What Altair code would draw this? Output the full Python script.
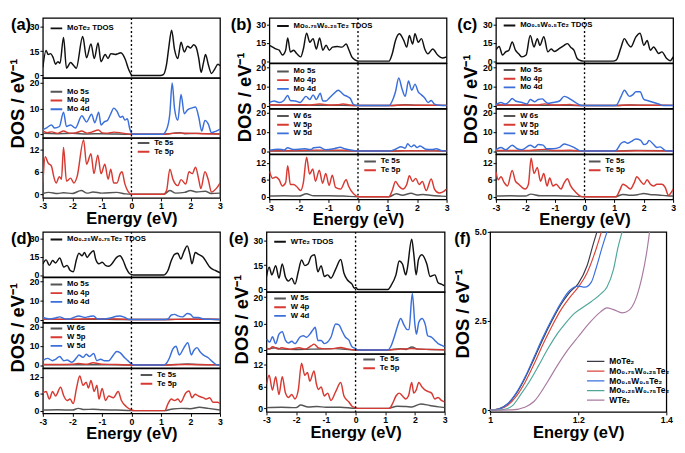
import altair as alt
import pandas as pd

FONT = "Liberation Sans"

BLACK = "#111111"
GRAY = "#555555"
RED = "#d63a32"
BLUE = "#3b6fda"

XTICKS = [-3, -2, -1, 0, 1, 2, 3]
TDOS_DOM, TDOS_TICKS = [-1.5, 35.5], [0, 15, 30]
PD_DOM, PD_TICKS = [-1.5, 22], [0, 10, 20]
TE_DOM, TE_TICKS = [-1, 15], [0, 6, 12]

# ---------------- panel (a) MoTe2 ----------------
A_TDOS = [(-3.0, 5), (-2.89, 15.5), (-2.82, 13), (-2.74, 13.5), (-2.65, 11), (-2.57, 7), (-2.49, 8.5), (-2.42, 7.5), (-2.3, 23.5), (-2.2, 4.5), (-2.06, 8), (-1.95, 6), (-1.87, 4.5), (-1.65, 24), (-1.52, 11), (-1.37, 19.5), (-1.26, 10.5), (-1.13, 20), (-1.03, 8.5), (-0.89, 13), (-0.79, 10.5), (-0.7, 13.5), (-0.55, 13), (-0.45, 13.5), (-0.36, 14), (-0.21, 10), (-0.1, 4), (-0.02, 1), (0.03, 0), (0.98, 0), (1.08, 0.5), (1.19, 7), (1.27, 18), (1.36, 28), (1.46, 16), (1.57, 10.5), (1.68, 20.5), (1.79, 14.5), (1.9, 18), (2.0, 17), (2.11, 19), (2.19, 17.5), (2.28, 10.5), (2.36, 2), (2.44, 8), (2.51, 13), (2.6, 7), (2.71, 1.3), (2.82, 4), (2.93, 7), (3.0, 6)]
A_MO5S = [(-3.0, 0.3), (-2.5, 0.2), (-2.0, 0.3), (-1.5, 0.1), (-1.0, 0.2), (0.0, 0), (1.1, 0), (1.4, 0.3), (1.65, 0.6), (1.8, 0.2), (2.2, 0.3), (3.0, 0.1)]
A_MO4P = [(-3.0, 1.2), (-2.85, 0.6), (-2.7, 0.9), (-2.5, 0.3), (-2.3, 1.2), (-2.1, 0.4), (-1.9, 0.5), (-1.68, 1.2), (-1.5, 0.4), (-1.35, 0.8), (-1.12, 1.6), (-0.98, 0.5), (-0.8, 0.4), (-0.6, 0.8), (-0.4, 0.6), (-0.2, 0.2), (0.0, 0), (1.1, 0), (1.35, 0.3), (1.65, 0.4), (2.0, 0.3), (2.4, 0.2), (3.0, 0.1)]
A_MO4D = [(-3.0, 1.8), (-2.87, 2.5), (-2.71, 3.6), (-2.6, 2.4), (-2.44, 3), (-2.3, 8.6), (-2.2, 3), (-2.06, 3.6), (-1.9, 2.4), (-1.68, 7.2), (-1.52, 4.8), (-1.35, 7.8), (-1.24, 4.5), (-1.11, 8.6), (-1.03, 3.6), (-0.92, 4.8), (-0.81, 5.4), (-0.7, 8), (-0.6, 10.2), (-0.49, 9), (-0.38, 6.6), (-0.3, 7), (-0.22, 5.5), (-0.14, 6), (-0.05, 1.8), (0.04, 0), (1.06, 0), (1.19, 1.8), (1.3, 8), (1.38, 20), (1.46, 10), (1.57, 5.4), (1.68, 15.5), (1.79, 8), (1.9, 9.5), (2.06, 10.3), (2.17, 10.6), (2.28, 6.6), (2.38, 1.2), (2.49, 5.4), (2.6, 4), (2.71, 0.6), (2.87, 1.2), (3.0, 2)]
A_TE5S = [(-3.0, 0.2), (-2.8, 0.5), (-2.5, 0.2), (-2.3, 0.4), (-2.0, 0.2), (-1.7, 1.0), (-1.5, 0.3), (-1.3, 0.6), (-1.0, 0.3), (-0.5, 0.5), (-0.2, 0.1), (0.0, 0), (1.1, 0), (1.3, 1.0), (1.5, 0.3), (1.8, 0.5), (2.0, 1.0), (2.2, 0.6), (2.5, 0.8), (2.7, 0.2), (3.0, 0.3)]
A_TE5P = [(-3.0, 3), (-2.92, 10), (-2.82, 8.3), (-2.71, 7.5), (-2.63, 4.7), (-2.55, 3), (-2.44, 4.7), (-2.37, 4), (-2.3, 12.5), (-2.2, 3.5), (-2.06, 4.3), (-1.95, 3), (-1.84, 4.7), (-1.62, 14.5), (-1.52, 8), (-1.37, 10.8), (-1.27, 5.5), (-1.14, 10.4), (-1.03, 5.5), (-0.9, 8), (-0.79, 4), (-0.7, 6.7), (-0.6, 3), (-0.49, 3), (-0.38, 5.5), (-0.32, 6), (-0.22, 2.7), (-0.11, 0.7), (0.0, 0), (1.08, 0), (1.19, 1), (1.3, 6.7), (1.41, 3.9), (1.57, 2.3), (1.68, 3.9), (1.84, 2.7), (1.95, 6), (2.06, 5.5), (2.17, 7.2), (2.28, 3.9), (2.35, 1.5), (2.49, 6), (2.6, 3.9), (2.71, 0.6), (2.87, 1.5), (3.0, 3)]

# ---------------- panel (b) Mo0.75W0.25Te2 ----------------
B_TDOS = [(-3.0, 13), (-2.89, 11.6), (-2.78, 10), (-2.67, 9), (-2.56, 5), (-2.45, 9), (-2.38, 19), (-2.29, 7.5), (-2.18, 9), (-2.07, 6), (-1.94, 3.5), (-1.85, 10), (-1.74, 23), (-1.63, 15.5), (-1.52, 18.5), (-1.41, 10), (-1.3, 19), (-1.19, 9), (-1.08, 13), (-0.97, 9), (-0.86, 11.5), (-0.7, 12), (-0.54, 11.5), (-0.4, 14), (-0.32, 10), (-0.21, 3.5), (-0.1, 1), (0.01, 0), (1.05, 0), (1.16, 6), (1.27, 17), (1.4, 22.5), (1.55, 17), (1.65, 11.5), (1.74, 21), (1.85, 14), (1.93, 22.5), (2.04, 15.5), (2.15, 18.5), (2.26, 10), (2.37, 6), (2.53, 10), (2.7, 5), (2.86, 2.5), (3.0, 3.5)]
B_MO5S = [(-3.0, 0.3), (-2.0, 0.2), (-1.0, 0.2), (0.0, 0), (1.1, 0), (1.6, 0.4), (2.0, 0.2), (3.0, 0.1)]
B_MO4P = [(-3.0, 0.4), (-2.5, 0.3), (-2.0, 0.5), (-1.6, 0.3), (-1.3, 0.8), (-1.0, 0.3), (-0.7, 0.4), (-0.5, 0.8), (-0.3, 0.3), (0.0, 0), (1.1, 0), (1.5, 0.3), (2.0, 0.2), (3.0, 0.1)]
B_MO4D = [(-3.0, 1.6), (-2.84, 2.4), (-2.67, 1.6), (-2.51, 2.7), (-2.38, 5.3), (-2.29, 2.7), (-2.12, 2.4), (-1.96, 1.6), (-1.76, 4.8), (-1.63, 3.2), (-1.52, 5.6), (-1.41, 3.2), (-1.28, 6.4), (-1.19, 2.4), (-1.08, 2.4), (-0.97, 4), (-0.81, 6.4), (-0.67, 8), (-0.59, 7.2), (-0.48, 5.6), (-0.37, 4.8), (-0.26, 3.7), (-0.15, 0.5), (0.01, 0), (1.05, 0), (1.16, 2.4), (1.27, 7.2), (1.38, 14.4), (1.49, 8.8), (1.6, 4.8), (1.71, 12.8), (1.82, 8), (1.93, 11.2), (2.04, 7.2), (2.15, 5.6), (2.26, 4), (2.37, 1.6), (2.48, 2.7), (2.59, 0.8), (2.75, 0.2), (3.0, 0)]
B_W6S = [(-3.0, 0.1), (-1.0, 0.1), (0.0, 0), (1.05, 0), (1.6, 0.2), (3.0, 0.05)]
B_W5P = [(-3.0, 0.2), (-2.0, 0.3), (-1.3, 0.5), (-0.5, 0.4), (0.0, 0), (1.05, 0), (1.6, 0.2), (3.0, 0.05)]
B_W5D = [(-3.0, 0.5), (-2.7, 1.0), (-2.5, 0.6), (-2.38, 1.7), (-2.2, 0.8), (-1.8, 1.2), (-1.6, 0.8), (-1.5, 1.7), (-1.3, 2.0), (-1.1, 0.7), (-0.8, 1.3), (-0.6, 2.0), (-0.45, 1.2), (-0.2, 0.4), (0.0, 0), (1.05, 0), (1.3, 1.2), (1.45, 2.3), (1.6, 1.5), (1.68, 3.8), (1.8, 2.2), (1.9, 3.2), (2.0, 1.8), (2.1, 2.7), (2.3, 1.0), (2.5, 0.8), (2.65, 1.2), (2.85, 0.2), (3.0, 0.1)]
B_TE5S = [(-3.0, 0.2), (-2.5, 0.3), (-2.0, 0.2), (-1.75, 1.0), (-1.5, 0.3), (-1.0, 0.3), (-0.5, 0.2), (0.0, 0), (1.05, 0), (1.3, 1.0), (1.5, 0.5), (1.8, 1.2), (2.0, 0.6), (2.2, 0.8), (2.5, 0.4), (2.8, 0.2), (3.0, 0.1)]
B_TE5P = [(-3.0, 9), (-2.89, 6.5), (-2.78, 7), (-2.67, 6), (-2.56, 3.8), (-2.45, 5), (-2.38, 11), (-2.29, 4.3), (-2.18, 4.3), (-2.07, 3.5), (-1.94, 2.2), (-1.85, 5), (-1.74, 14), (-1.64, 8), (-1.53, 9.8), (-1.44, 5.5), (-1.31, 9.4), (-1.2, 4.8), (-1.09, 8.2), (-0.98, 4), (-0.87, 7.6), (-0.76, 3.3), (-0.59, 2.7), (-0.4, 6), (-0.32, 3.8), (-0.15, 1), (0.01, 0), (1.05, 0), (1.16, 2.2), (1.27, 5.4), (1.38, 3.8), (1.52, 2.7), (1.65, 4.3), (1.74, 7.4), (1.85, 5.4), (1.96, 6.5), (2.07, 4.3), (2.18, 5.4), (2.31, 2.2), (2.48, 6.3), (2.59, 2.7), (2.75, 1.3), (2.86, 1.6), (3.0, 2.7)]

# ---------------- panel (c) Mo0.5W0.5Te2 ----------------
C_TDOS = [(-3.0, 9), (-2.89, 12), (-2.78, 5), (-2.67, 7.6), (-2.56, 9), (-2.45, 15.8), (-2.34, 9), (-2.23, 6), (-2.12, 3.5), (-1.98, 5), (-1.84, 21), (-1.71, 11.7), (-1.6, 18.5), (-1.51, 13), (-1.38, 20), (-1.24, 7.6), (-1.13, 10), (-1.02, 8), (-0.85, 10.4), (-0.69, 13), (-0.58, 14.4), (-0.47, 11.5), (-0.36, 9), (-0.25, 2.2), (-0.14, 0.5), (-0.03, 0), (0.96, 0), (1.07, 0.8), (1.24, 11.7), (1.35, 18.5), (1.46, 14.4), (1.57, 11.7), (1.74, 20), (1.88, 23), (2.01, 13), (2.12, 17), (2.23, 9), (2.34, 11.7), (2.51, 6.3), (2.62, 7.6), (2.78, 2.2), (2.9, 0.3), (3.0, 3.5)]
C_MO5S = [(-3.0, 0.2), (-2.0, 0.2), (-1.0, 0.2), (0.0, 0), (1.05, 0), (1.6, 0.3), (2.0, 0.2), (3.0, 0.1)]
C_MO4P = [(-3.0, 0.4), (-2.5, 0.3), (-2.0, 0.4), (-1.6, 0.3), (-1.35, 0.9), (-1.1, 0.3), (-0.7, 0.4), (-0.5, 0.6), (-0.3, 0.2), (0.0, 0), (1.05, 0), (1.5, 0.3), (2.0, 0.2), (3.0, 0.1)]
C_MO4D = [(-3.0, 0.5), (-2.83, 1.6), (-2.67, 0.8), (-2.56, 2), (-2.45, 3.7), (-2.34, 2.4), (-2.12, 1.6), (-1.95, 0.8), (-1.84, 3.2), (-1.68, 2), (-1.57, 3.2), (-1.43, 3.5), (-1.35, 2.4), (-1.24, 1.2), (-1.07, 1.6), (-0.85, 2.4), (-0.69, 4.8), (-0.58, 4.3), (-0.47, 3.2), (-0.3, 1.6), (-0.14, 0.2), (-0.03, 0), (0.96, 0), (1.07, 0.2), (1.24, 4.8), (1.35, 8), (1.52, 4.8), (1.63, 5.6), (1.74, 7.2), (1.88, 7.2), (2.01, 3.2), (2.18, 2.4), (2.34, 1.6), (2.51, 0.8), (2.67, 0), (3.0, 0)]
C_W6S = [(-3.0, 0.1), (-1.0, 0.1), (0.0, 0), (1.05, 0), (1.7, 0.3), (3.0, 0.05)]
C_W5P = [(-3.0, 0.3), (-2.0, 0.3), (-1.35, 0.9), (-1.0, 0.3), (-0.5, 0.4), (0.0, 0), (1.05, 0), (1.8, 0.2), (3.0, 0.1)]
C_W5D = [(-3.0, 0.7), (-2.83, 1.9), (-2.67, 0.7), (-2.45, 3.1), (-2.28, 1.2), (-2.12, 0.7), (-1.84, 3.1), (-1.68, 1.9), (-1.57, 3.4), (-1.4, 3.1), (-1.29, 1.2), (-1.07, 1.2), (-0.85, 1.9), (-0.69, 3.7), (-0.54, 3.1), (-0.36, 1.9), (-0.19, 0.4), (-0.03, 0), (0.96, 0), (1.07, 0.4), (1.24, 4.1), (1.35, 4.9), (1.46, 4.1), (1.57, 4.9), (1.74, 6.3), (1.9, 5.6), (2.01, 3.4), (2.12, 4.1), (2.18, 5.6), (2.34, 3.4), (2.45, 1.9), (2.56, 2.2), (2.73, 0.4), (2.87, 0), (3.0, 0)]
C_TE5S = [(-3.0, 0.2), (-2.5, 0.3), (-2.0, 0.2), (-1.82, 0.9), (-1.5, 0.3), (-1.0, 0.3), (-0.5, 0.2), (0.0, 0), (1.05, 0), (1.3, 0.8), (1.5, 0.5), (1.8, 0.7), (2.0, 1.1), (2.2, 0.8), (2.5, 0.6), (2.8, 0.3), (3.0, 0.2)]
C_TE5P = [(-3.0, 8.8), (-2.92, 6), (-2.83, 7.1), (-2.72, 5), (-2.61, 3.8), (-2.45, 9.3), (-2.34, 5.5), (-2.23, 4.4), (-2.12, 3.3), (-2.01, 2.7), (-1.9, 4.4), (-1.81, 13.7), (-1.71, 8.2), (-1.6, 10.4), (-1.49, 5.5), (-1.38, 8.2), (-1.27, 3.8), (-1.18, 6.6), (-1.07, 3.8), (-0.96, 4.4), (-0.8, 2.7), (-0.69, 4.9), (-0.58, 6.4), (-0.47, 3.8), (-0.3, 1.6), (-0.14, 0.2), (-0.03, 0), (1.07, 0), (1.19, 2.2), (1.3, 4.4), (1.41, 3.8), (1.55, 2.7), (1.68, 4.9), (1.77, 7.1), (1.9, 5.5), (2.01, 4.4), (2.12, 6), (2.23, 4.4), (2.34, 3.8), (2.45, 4.4), (2.62, 4.4), (2.73, 3.3), (2.84, 0.5), (3.0, 2.7)]

# ---------------- panel (d) Mo0.25W0.75Te2 ----------------
D_TDOS = [(-3.0, 9.3), (-2.89, 12.5), (-2.78, 8), (-2.67, 12), (-2.57, 10), (-2.43, 14), (-2.29, 6.6), (-2.18, 8), (-2.08, 4), (-1.97, 2.7), (-1.86, 13), (-1.78, 18), (-1.67, 15.9), (-1.59, 18.6), (-1.5, 14.5), (-1.42, 17), (-1.28, 20), (-1.21, 13), (-1.1, 9.3), (-0.99, 10.6), (-0.88, 8), (-0.77, 7.2), (-0.66, 9.3), (-0.5, 14.6), (-0.39, 15.9), (-0.28, 12), (-0.17, 5.3), (-0.07, 1.3), (0.04, 0.2), (0.1, 0), (1.08, 0), (1.24, 4), (1.35, 12), (1.46, 17), (1.57, 18), (1.67, 13.2), (1.78, 19.4), (1.89, 24), (1.98, 17), (2.05, 9.3), (2.16, 18.6), (2.27, 17), (2.43, 14.6), (2.54, 10.6), (2.65, 6.6), (2.82, 4), (3.0, 1.9)]
D_MO5S = [(-3.0, 0.1), (-1.0, 0.1), (0.0, 0), (1.1, 0), (1.9, 0.2), (3.0, 0.05)]
D_MO4P = [(-3.0, 0.2), (-2.0, 0.2), (-1.3, 0.4), (-0.5, 0.3), (0.0, 0), (1.1, 0), (1.9, 0.2), (3.0, 0.05)]
D_MO4D = [(-3.0, 1.1), (-2.78, 0.3), (-2.57, 0.8), (-2.43, 1.4), (-2.24, 0.3), (-2.08, 0.3), (-1.97, 1), (-1.78, 1.9), (-1.59, 1.1), (-1.42, 1.6), (-1.28, 1.9), (-1.15, 0.3), (-0.93, 0.3), (-0.72, 0.8), (-0.5, 1.7), (-0.39, 1.9), (-0.23, 1.1), (-0.07, 0), (0.1, 0), (1.08, 0), (1.24, 0.3), (1.35, 2.4), (1.46, 2.7), (1.57, 1.9), (1.73, 1.4), (1.89, 3.2), (2.0, 2.7), (2.11, 1.1), (2.27, 1.1), (2.43, 0.3), (2.65, 0.1), (3.0, 0)]
D_W6S = [(-3.0, 0.2), (-2.0, 0.2), (-1.0, 0.2), (0.0, 0), (1.1, 0), (1.5, 0.3), (1.9, 0.5), (2.2, 0.3), (3.0, 0.1)]
D_W5P = [(-3.0, 0.3), (-2.5, 0.3), (-2.0, 0.4), (-1.8, 0.8), (-1.5, 0.4), (-1.3, 1.2), (-1.0, 0.4), (-0.5, 0.3), (0.0, 0), (1.1, 0), (1.8, 0.3), (3.0, 0.1)]
D_W5D = [(-3.0, 2.3), (-2.84, 3.5), (-2.67, 2.3), (-2.57, 3), (-2.43, 4.5), (-2.29, 2.3), (-2.18, 2.6), (-2.02, 1.5), (-1.86, 3.8), (-1.78, 5.3), (-1.64, 4), (-1.53, 5.6), (-1.42, 4.5), (-1.28, 6), (-1.17, 2.3), (-1.04, 3), (-0.93, 2.3), (-0.77, 2.3), (-0.61, 5.3), (-0.5, 7.1), (-0.39, 6.5), (-0.23, 3.8), (-0.12, 2.3), (-0.01, 0.8), (0.1, 0), (1.08, 0), (1.18, 0.8), (1.29, 3.8), (1.4, 8.3), (1.51, 9.8), (1.62, 5.3), (1.78, 9.1), (1.91, 11.7), (2.03, 5.3), (2.11, 7.6), (2.22, 9.1), (2.33, 6.8), (2.43, 5.3), (2.6, 3.8), (2.76, 1.5), (2.92, 0), (3.0, 0)]
D_TE5S = [(-3.0, 0.2), (-2.5, 0.3), (-2.0, 0.2), (-1.8, 0.8), (-1.6, 0.4), (-1.3, 0.5), (-1.0, 0.3), (-0.5, 0.2), (0.0, 0), (1.1, 0), (1.4, 0.6), (1.7, 0.8), (2.0, 0.7), (2.3, 1.2), (2.6, 0.8), (3.0, 0.2)]
D_TE5P = [(-3.0, 6.3), (-2.89, 6.8), (-2.78, 4.1), (-2.67, 6.8), (-2.57, 5.2), (-2.4, 8.3), (-2.29, 5.2), (-2.18, 3.6), (-2.08, 4.1), (-1.97, 2.5), (-1.86, 8), (-1.75, 12.3), (-1.64, 9), (-1.53, 10.1), (-1.46, 8), (-1.37, 10.7), (-1.26, 6.8), (-1.17, 9), (-1.1, 4.1), (-0.99, 7.9), (-0.88, 3.6), (-0.77, 5.2), (-0.61, 4.6), (-0.45, 6.8), (-0.34, 3.6), (-0.17, 1.4), (-0.01, 0.3), (0.1, 0), (1.13, 0), (1.24, 2.5), (1.35, 4.1), (1.46, 3.6), (1.57, 4.1), (1.67, 3), (1.84, 6.3), (1.95, 7), (2.05, 4.6), (2.16, 5.8), (2.27, 5.2), (2.43, 4.6), (2.54, 4.1), (2.65, 4.6), (2.76, 3), (2.92, 3), (3.0, 2.5)]

# ---------------- panel (e) WTe2 ----------------
E_TDOS = [(-3.0, 8), (-2.91, 13.8), (-2.82, 9), (-2.69, 14.7), (-2.58, 7), (-2.47, 15.7), (-2.36, 7.5), (-2.26, 5.2), (-2.15, 7), (-2.04, 3.3), (-1.93, 10.9), (-1.82, 18.2), (-1.71, 14.7), (-1.6, 15.7), (-1.49, 20.5), (-1.38, 21.4), (-1.27, 10.9), (-1.16, 14.7), (-1.05, 8), (-0.94, 9), (-0.83, 7), (-0.67, 12.6), (-0.5, 18.5), (-0.39, 10), (-0.28, 6), (-0.12, 3.3), (-0.04, 0.8), (0.01, 1.3), (0.07, 0), (1.09, 0), (1.19, 2.3), (1.36, 9), (1.47, 17.6), (1.58, 15.7), (1.69, 9), (1.74, 12.6), (1.89, 31), (1.96, 22), (2.04, 9), (2.12, 18.5), (2.23, 21.4), (2.4, 15.7), (2.51, 8), (2.67, 9), (2.78, 4.2), (2.89, 3.3), (3.0, 2.3)]
E_W5S = [(-3.0, 0.2), (-2.7, 0.8), (-2.5, 0.3), (-2.0, 0.2), (-1.5, 0.3), (-0.7, 0.5), (0.0, 0), (1.1, 0), (1.5, 0.5), (1.7, 0.2), (1.9, 1.1), (2.1, 0.3), (2.5, 0.2), (3.0, 0.1)]
E_W4P = [(-3.0, 0.8), (-2.9, 0.3), (-2.8, 1.2), (-2.6, 0.3), (-2.5, 0.8), (-2.2, 0.3), (-1.9, 0.8), (-1.7, 0.3), (-1.5, 1.5), (-1.4, 2.2), (-1.25, 0.8), (-1.0, 0.4), (-0.7, 0.6), (-0.5, 0.9), (-0.3, 0.4), (0.0, 0), (1.1, 0), (1.5, 0.3), (1.9, 0.5), (2.2, 0.3), (3.0, 0.1)]
E_W4D = [(-3.0, 4.2), (-2.89, 3), (-2.8, 5), (-2.69, 2.4), (-2.58, 6), (-2.47, 6.9), (-2.36, 3.6), (-2.26, 2.6), (-2.15, 3.3), (-2.04, 2.4), (-1.88, 4.8), (-1.76, 5.4), (-1.65, 4.8), (-1.54, 6), (-1.43, 7.7), (-1.36, 8.6), (-1.27, 3.6), (-1.16, 3.6), (-1.05, 2.4), (-0.94, 3), (-0.83, 4.8), (-0.67, 9.8), (-0.56, 9.5), (-0.45, 7.1), (-0.34, 4.8), (-0.23, 3.8), (-0.12, 1.2), (-0.01, 0.6), (0.07, 0), (1.09, 0), (1.19, 1.4), (1.3, 4.8), (1.41, 8.9), (1.52, 11.9), (1.63, 9.5), (1.74, 7.7), (1.8, 7.7), (1.91, 21.4), (2.0, 9.5), (2.05, 6), (2.13, 10.5), (2.24, 11.9), (2.35, 9.5), (2.43, 5.4), (2.56, 4.8), (2.67, 3.6), (2.78, 2.4), (2.89, 1.8), (3.0, 1.2)]
E_TE5S = [(-3.0, 0.2), (-2.5, 0.3), (-2.0, 0.2), (-1.85, 0.9), (-1.6, 0.4), (-1.3, 0.5), (-1.0, 0.3), (-0.5, 0.3), (0.0, 0), (1.1, 0), (1.4, 0.6), (1.7, 0.5), (1.9, 0.4), (2.2, 1.2), (2.5, 0.8), (2.8, 0.4), (3.0, 0.2)]
E_TE5P = [(-3.0, 6.7), (-2.91, 9.1), (-2.8, 5), (-2.69, 8.7), (-2.58, 3.8), (-2.47, 8.7), (-2.36, 4.2), (-2.26, 3), (-2.15, 3.8), (-2.04, 2.6), (-1.93, 5), (-1.82, 12.4), (-1.71, 9.1), (-1.62, 9.9), (-1.54, 7.5), (-1.4, 10.3), (-1.32, 6.7), (-1.25, 5.2), (-1.16, 5.9), (-1.05, 3.4), (-0.94, 4.2), (-0.83, 2.2), (-0.67, 4.6), (-0.5, 7.1), (-0.39, 3.4), (-0.23, 1.8), (-0.12, 0.6), (-0.01, 0.2), (0.07, 0), (1.14, 0), (1.25, 1.4), (1.36, 3.4), (1.47, 4.2), (1.58, 3.4), (1.69, 2.6), (1.78, 3.4), (1.89, 7.1), (1.96, 4.2), (2.04, 5), (2.13, 7.1), (2.24, 5.9), (2.35, 5), (2.45, 4.6), (2.56, 4.2), (2.67, 2.6), (2.78, 3), (2.89, 2.2), (3.0, 1.8)]

# ---------------- panel (f) band edge comparison ----------------
F_MOTE2 = [(1.0, 0), (1.02, 0.04), (1.04, 0.18), (1.06, 0.48), (1.08, 0.92), (1.1, 1.45), (1.12, 2.0), (1.14, 2.5), (1.16, 2.95), (1.18, 3.3), (1.2, 3.55), (1.22, 4.05), (1.235, 4.7), (1.245, 5.1)]
F_MO75 = [(1.0, 0), (1.02, 0.03), (1.04, 0.14), (1.06, 0.4), (1.08, 0.8), (1.1, 1.3), (1.12, 1.85), (1.14, 2.35), (1.16, 2.8), (1.18, 3.15), (1.2, 3.45), (1.22, 3.85), (1.24, 4.5), (1.255, 5.1)]
F_MO50 = [(1.0, 0), (1.02, 0.03), (1.04, 0.18), (1.06, 0.5), (1.08, 0.95), (1.1, 1.5), (1.12, 2.05), (1.14, 2.55), (1.16, 3.0), (1.18, 3.35), (1.2, 3.48), (1.215, 3.45), (1.23, 3.6), (1.24, 3.96), (1.255, 4.6), (1.268, 5.1)]
F_MO25 = [(1.0, 0), (1.03, 0.02), (1.05, 0.12), (1.07, 0.45), (1.09, 0.82), (1.11, 1.25), (1.13, 1.7), (1.15, 2.1), (1.17, 2.42), (1.19, 2.7), (1.21, 2.88), (1.23, 3.05), (1.25, 3.25), (1.265, 3.45), (1.28, 3.95), (1.29, 4.55), (1.302, 5.1)]
F_WTE2 = [(1.0, 0), (1.05, 0.01), (1.08, 0.09), (1.1, 0.25), (1.13, 0.79), (1.15, 1.2), (1.175, 1.67), (1.2, 2.06), (1.225, 2.44), (1.25, 2.75), (1.265, 2.87), (1.28, 2.82), (1.3, 2.73), (1.315, 2.8), (1.33, 3.1), (1.345, 3.75), (1.355, 4.4), (1.363, 5.1)]
F_NAMES = ["MoTe₂", "Mo₀.₇₅W₀.₂₅Te₂", "Mo₀.₅W₀.₅Te₂", "Mo₀.₂₅W₀.₇₅Te₂", "WTe₂"]
F_COLORS = ["#3a3a48", "#d9463c", "#3a6fe0", "#4fa79a", "#a87aa0"]

YTITLE = "DOS / eV⁻¹"


def frame(names, series):
    rows = []
    for nm, pts in zip(names, series):
        for e, v in pts:
            rows.append({"E": e, "D": v, "S": nm})
    return pd.DataFrame(rows)


def subplot(names, series, colors, ydom, yticks, w, h, leg_xy, bottom=False,
            label=None, label_xy=(-36, -1), ytitle_y=None, xdom=(-3, 3),
            xticks=XTICKS, zero_rule=True, line_w=1.5, leg_sym=144, leg_sw=2.0,
            leg_clip=8.5, leg_font=8, ylabel_expr=None):
    df = frame(names, series)
    if bottom:
        xaxis = alt.Axis(values=xticks, title="Energy (eV)", labelExpr="'' + datum.value",
                         labelFlush=False, labelOverlap=False, tickSize=3, labelPadding=1,
                         titlePadding=0, titleFontSize=17)
    else:
        xaxis = None
    xenc = alt.X("E:Q", scale=alt.Scale(domain=list(xdom), nice=False, zero=False), axis=xaxis)
    ykw = dict(values=yticks, labelOverlap=False, labelFlush=False, tickSize=3, labelPadding=1)
    if ylabel_expr:
        ykw["labelExpr"] = ylabel_expr
    if ytitle_y is not None:
        ykw.update(title=YTITLE, titleY=ytitle_y, titlePadding=2)
    else:
        ykw.update(title=None)
    yenc = alt.Y("D:Q", scale=alt.Scale(domain=list(ydom), nice=False, zero=False), axis=alt.Axis(**ykw))
    leg = alt.Legend(orient="none", legendX=leg_xy[0], legendY=leg_xy[1], title=None,
                     symbolType="stroke", symbolStrokeWidth=leg_sw, symbolSize=leg_sym,
                     labelFont=FONT, labelFontSize=leg_font, labelFontWeight="bold", labelColor="black",
                     rowPadding=0, clipHeight=leg_clip, padding=0, labelOffset=4, labelLimit=300,
                     symbolOffset=0)
    color = alt.Color("S:N", scale=alt.Scale(domain=names, range=colors), legend=leg, sort=names)
    line = alt.Chart(df).mark_line(interpolate="monotone", strokeWidth=line_w, clip=True).encode(
        x=xenc, y=yenc, color=color)
    layers = [line]
    if zero_rule:
        layers.append(alt.Chart(pd.DataFrame({"E": [0.0]})).mark_rule(
            color="black", strokeDash=[2, 2.5], strokeWidth=1.4).encode(x=xenc))
    if label:
        layers.append(alt.Chart(pd.DataFrame({"t": [label]})).mark_text(
            align="left", baseline="top", font=FONT, fontSize=17, fontWeight="bold", color="black"
        ).encode(x=alt.value(label_xy[0]), y=alt.value(label_xy[1]), text="t:N"))
    return alt.layer(*layers).properties(width=w, height=h)


def panel(subs):
    return alt.vconcat(*subs, spacing=0, bounds="flush").resolve_scale(color="independent")


W1 = 183
H4 = 46.5

pA = panel([
    subplot(["MoTe₂ TDOS"], [A_TDOS], [BLACK], TDOS_DOM, TDOS_TICKS, W1, 62, (7, 6.5), label="(a)", label_xy=(-33, -1)),
    subplot(["Mo 5s", "Mo 4p", "Mo 4d"], [A_MO5S, A_MO4P, A_MO4D], [GRAY, RED, BLUE], PD_DOM, PD_TICKS, W1, 62, (7, 10), ytitle_y=26),
    subplot(["Te 5s", "Te 5p"], [A_TE5S, A_TE5P], [GRAY, RED], TE_DOM, TE_TICKS, W1, 62, (97, 1), bottom=True),
])

pB = panel([
    subplot(["Mo₀.₇₅W₀.₂₅Te₂ TDOS"], [B_TDOS], [BLACK], TDOS_DOM, TDOS_TICKS, W1, H4, (7, 4), label="(b)", label_xy=(-40, -1)),
    subplot(["Mo 5s", "Mo 4p", "Mo 4d"], [B_MO5S, B_MO4P, B_MO4D], [GRAY, RED, BLUE], PD_DOM, PD_TICKS, W1, H4, (7, 4), ytitle_y=H4 - 12),
    subplot(["W 6s", "W 5p", "W 5d"], [B_W6S, B_W5P, B_W5D], [GRAY, RED, BLUE], PD_DOM, PD_TICKS, W1, H4, (7, 3)),
    subplot(["Te 5s", "Te 5p"], [B_TE5S, B_TE5P], [GRAY, RED], TE_DOM, TE_TICKS, W1, H4, (97, 3), bottom=True),
])

pC = panel([
    subplot(["Mo₀.₅W₀.₅Te₂ TDOS"], [C_TDOS], [BLACK], TDOS_DOM, TDOS_TICKS, W1, H4, (7, 3.5), label="(c)", label_xy=(-40, -1)),
    subplot(["Mo 5s", "Mo 4p", "Mo 4d"], [C_MO5S, C_MO4P, C_MO4D], [GRAY, RED, BLUE], PD_DOM, PD_TICKS, W1, H4, (7, 2.5), ytitle_y=H4 - 10),
    subplot(["W 6s", "W 5p", "W 5d"], [C_W6S, C_W5P, C_W5D], [GRAY, RED, BLUE], PD_DOM, PD_TICKS, W1, H4, (7, 3)),
    subplot(["Te 5s", "Te 5p"], [C_TE5S, C_TE5P], [GRAY, RED], TE_DOM, TE_TICKS, W1, H4, (95, 3), bottom=True),
])

pD = panel([
    subplot(["Mo₀.₂₅W₀.₇₅Te₂ TDOS"], [D_TDOS], [BLACK], TDOS_DOM, TDOS_TICKS, W1, H4, (7, 3.5), label="(d)", label_xy=(-33, -1)),
    subplot(["Mo 5s", "Mo 4p", "Mo 4d"], [D_MO5S, D_MO4P, D_MO4D], [GRAY, RED, BLUE], PD_DOM, PD_TICKS, W1, H4, (7, 3), ytitle_y=H4 + 5),
    subplot(["W 6s", "W 5p", "W 5d"], [D_W6S, D_W5P, D_W5D], [GRAY, RED, BLUE], PD_DOM, PD_TICKS, W1, H4, (7, 1.5)),
    subplot(["Te 5s", "Te 5p"], [D_TE5S, D_TE5P], [GRAY, RED], TE_DOM, TE_TICKS, W1, H4, (100, 2.5), bottom=True),
])

pE = panel([
    subplot(["WTe₂ TDOS"], [E_TDOS], [BLACK], TDOS_DOM, TDOS_TICKS, 184, 62, (7, 6), label="(e)", label_xy=(-39, -1)),
    subplot(["W 5s", "W 4p", "W 4d"], [E_W5S, E_W4P, E_W4D], [GRAY, RED, BLUE], PD_DOM, PD_TICKS, 184, 64, (7, 2.5), ytitle_y=28),
    subplot(["Te 5s", "Te 5p"], [E_TE5S, E_TE5P], [GRAY, RED], TE_DOM, TE_TICKS, 184, 60, (99, 1.5), bottom=True),
])

pF = subplot(F_NAMES, [F_MOTE2, F_MO75, F_MO50, F_MO25, F_WTE2], F_COLORS, [-0.05, 5], [0, 2.5, 5],
             182, 186, (99, 129), bottom=True, label="(f)", label_xy=(-37, -1), ytitle_y=84,
             xdom=(1, 1.4), xticks=[1, 1.2, 1.4], zero_rule=False, line_w=1.2, leg_sym=324,
             leg_sw=1.3, leg_clip=9.7, leg_font=8.7,
             ylabel_expr="datum.value == 5 ? '5.0' : '' + datum.value")

row1 = alt.hconcat(pA, pB, pC, spacing=6).resolve_scale(color="independent")
row2 = alt.hconcat(pD, pE, pF, spacing=4).resolve_scale(color="independent")

chart = alt.vconcat(row1, row2, spacing=-2).resolve_scale(color="independent").properties(
    padding=0
).configure_view(
    stroke="black", strokeWidth=1.3
).configure_axis(
    labelFont=FONT, labelFontSize=9, labelFontWeight="bold", labelColor="black",
    tickColor="black", tickWidth=1, domain=False, grid=False,
    titleFont=FONT, titleFontSize=19, titleFontWeight="bold", titleColor="black"
)

chart.save("out.html", embed_options={"renderer": "svg", "actions": False})
